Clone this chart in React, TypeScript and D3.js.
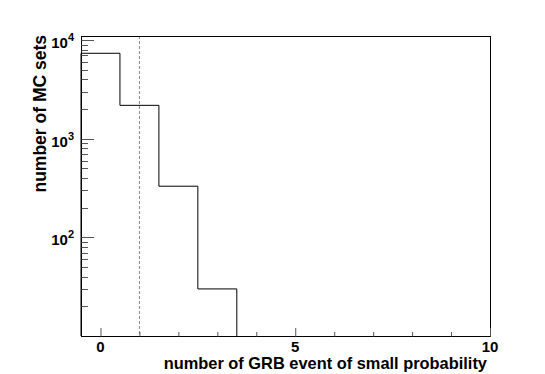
import React from "react";
import * as d3 from "d3";

const binEdges = [-0.5, 0.5, 1.5, 2.5, 3.5];
const binCounts = [7350, 2180, 330, 30];
const xMajorTicks = [0, 5, 10];
const xMinorTicks = [1, 2, 3, 4, 6, 7, 8, 9];
const yMajorTicks = [100, 1000, 10000];
const yMajorLabels = ["2", "3", "4"];
const cutValue = 1;
const xTitle = "number of GRB event of small probability";
const yTitle = "number of MC sets";

const W = 545;
const H = 374;
const L = 81, R = 490, T = 36, B = 336;

export default function App() {
  const x = d3.scaleLinear().domain([-0.5, 10]).range([L, R]);
  const y = d3.scaleLog().domain([10, 11000]).range([B, T]);

  const yMinor: number[] = [];
  for (const dec of [10, 100, 1000]) {
    for (let k = 2; k <= 9; k++) yMinor.push(dec * k);
  }

  const pts: [number, number][] = [];
  pts.push([x(binEdges[0]), B]);
  binCounts.forEach((c, i) => {
    pts.push([x(binEdges[i]), y(c)]);
    pts.push([x(binEdges[i + 1]), y(c)]);
  });
  pts.push([x(binEdges[binEdges.length - 1]), B]);
  const line = d3.line();
  const font = "'Liberation Sans', Arial, Helvetica, sans-serif";

  return (
    <svg width={W} height={H} style={{ position: "absolute", left: 0, top: 0, background: "#fff" }} fontFamily={font}>
      <rect x={0} y={0} width={W} height={H} fill="#fff" />
      <path d={line(pts) || ""} fill="none" stroke="#000" strokeWidth={1} />
      <line x1={x(cutValue)} x2={x(cutValue)} y1={T} y2={B} stroke="#888" strokeWidth={1} strokeDasharray="3 2" />
      <rect x={L + 0.5} y={T + 0.5} width={R - L} height={B - T} fill="none" stroke="#000" strokeWidth={1} />
      {xMajorTicks.map((v) => (
        <g key={"xm" + v}>
          <line x1={x(v) + 0.5} x2={x(v) + 0.5} y1={B + 0.5} y2={B - 8} stroke="#555" />
          <text x={x(v)} y={352} textAnchor="middle" fontSize={15} fontWeight="bold">{v}</text>
        </g>
      ))}
      {xMinorTicks.map((v) => (
        <line key={"xn" + v} x1={x(v) + 0.5} x2={x(v) + 0.5} y1={B + 0.5} y2={B - 4} stroke="#555" />
      ))}
      {yMajorTicks.map((v, i) => (
        <g key={"ym" + v}>
          <line x1={L + 0.5} x2={L + 13} y1={Math.round(y(v)) + 0.5} y2={Math.round(y(v)) + 0.5} stroke="#555" />
          <text x={74} y={y(v) + 8} textAnchor="end" fontSize={15} fontWeight="bold">
            10<tspan fontSize={11} dy={-7}>{yMajorLabels[i]}</tspan>
          </text>
        </g>
      ))}
      {yMinor.map((v) => (
        <line key={"yn" + v} x1={L + 0.5} x2={L + 7} y1={Math.round(y(v)) + 0.5} y2={Math.round(y(v)) + 0.5} stroke="#555" />
      ))}
      <text x={487} y={369} textAnchor="end" fontSize={16.4} fontWeight="bold">{xTitle}</text>
      <text transform="translate(46,35) rotate(-90)" textAnchor="end" fontSize={17.5} fontWeight="bold">{yTitle}</text>
    </svg>
  );
}
